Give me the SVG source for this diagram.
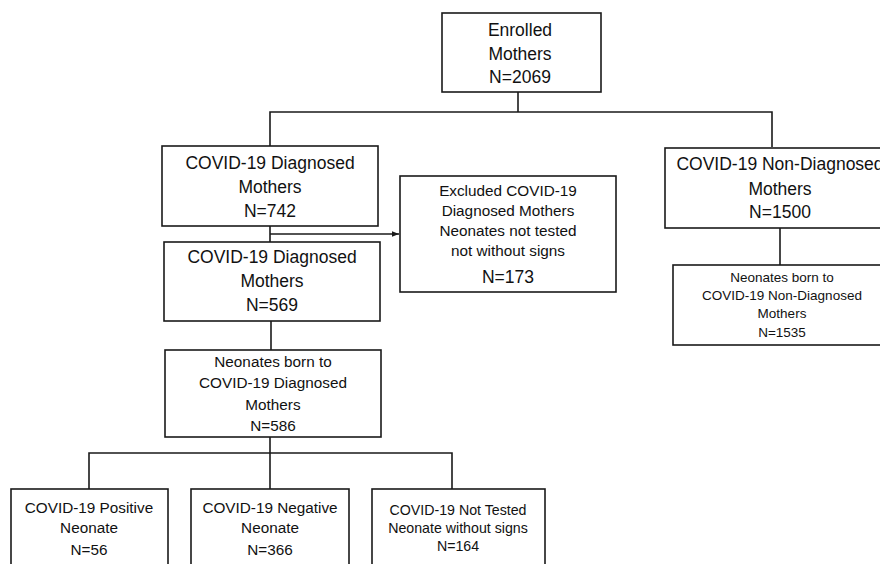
<svg xmlns="http://www.w3.org/2000/svg" width="880" height="564" viewBox="0 0 880 564">
<style>
.box{fill:#fff;stroke:#1a1a1a;stroke-width:1.6}
.ln{fill:none;stroke:#1a1a1a;stroke-width:1.6}
text{font-family:"Liberation Sans",Arial,sans-serif;fill:#111;text-anchor:middle}
.l{font-size:17.5px}
.m{font-size:15.3px}
.s{font-size:14.2px}
.xs{font-size:13.5px}
</style>
<defs>
<marker id="arr" viewBox="0 0 10 10" refX="10" refY="5" markerWidth="7" markerHeight="7" markerUnits="userSpaceOnUse" orient="auto">
<path d="M0,1 L10,5 L0,9 Z" fill="#1a1a1a"/>
</marker>
</defs>
<rect width="880" height="564" fill="#fff"/>
<g id="connectors">
<path class="ln" d="M518,92 V112"/>
<path class="ln" d="M270,147 V112 H772 V147"/>
<path class="ln" d="M270,226 V242"/>
<path class="ln" d="M270,234 H399" marker-end="url(#arr)"/>
<path class="ln" d="M780,228 V265"/>
<path class="ln" d="M271,321 V350"/>
<path class="ln" d="M270,437 V489"/>
<path class="ln" d="M89,489 V453 H452 V489"/>
</g>
<g id="enrolled">
<rect class="box" x="442" y="13" width="159" height="79"/>
<text class="l" x="520" y="36">Enrolled</text>
<text class="l" x="520" y="60">Mothers</text>
<text class="l" x="520" y="83">N=2069</text>
</g>
<g id="diag742">
<rect class="box" x="162" y="146" width="216" height="80"/>
<text class="l" x="270" y="169">COVID-19 Diagnosed</text>
<text class="l" x="270" y="193">Mothers</text>
<text class="l" x="270" y="217">N=742</text>
</g>
<g id="excluded">
<rect class="box" x="400" y="176" width="216" height="116"/>
<text class="m" x="508" y="196">Excluded COVID-19</text>
<text class="m" x="508" y="216">Diagnosed Mothers</text>
<text class="m" x="508" y="236">Neonates not tested</text>
<text class="m" x="508" y="256">not without signs</text>
<text class="l" x="508" y="283">N=173</text>
</g>
<g id="diag569">
<rect class="box" x="164" y="242" width="216" height="79"/>
<text class="l" x="272" y="263">COVID-19 Diagnosed</text>
<text class="l" x="272" y="287">Mothers</text>
<text class="l" x="272" y="311">N=569</text>
</g>
<g id="nondiag">
<rect class="box" x="665" y="148" width="232" height="80"/>
<text class="l" x="780" y="170">COVID-19 Non-Diagnosed</text>
<text class="l" x="780" y="195">Mothers</text>
<text class="l" x="780" y="218">N=1500</text>
</g>
<g id="neonates-nondiag">
<rect class="box" x="673" y="265" width="220" height="80"/>
<text class="xs" x="782" y="282">Neonates born to</text>
<text class="xs" x="782" y="300">COVID-19 Non-Diagnosed</text>
<text class="xs" x="782" y="318">Mothers</text>
<text class="xs" x="782" y="337">N=1535</text>
</g>
<g id="neonates-diag">
<rect class="box" x="165" y="350" width="216" height="87"/>
<text class="m" x="273" y="367">Neonates born to</text>
<text class="m" x="273" y="388">COVID-19 Diagnosed</text>
<text class="m" x="273" y="410">Mothers</text>
<text class="m" x="273" y="431">N=586</text>
</g>
<g id="positive">
<rect class="box" x="11" y="489" width="157" height="90"/>
<text class="m" x="89" y="513">COVID-19 Positive</text>
<text class="m" x="89" y="533">Neonate</text>
<text class="m" x="89" y="555">N=56</text>
</g>
<g id="negative">
<rect class="box" x="191" y="489" width="158" height="90"/>
<text class="m" x="270" y="513">COVID-19 Negative</text>
<text class="m" x="270" y="533">Neonate</text>
<text class="m" x="270" y="555">N=366</text>
</g>
<g id="nottested">
<rect class="box" x="372" y="489" width="173" height="90"/>
<text class="s" x="458" y="515">COVID-19 Not Tested</text>
<text class="s" x="458" y="533">Neonate without signs</text>
<text class="s" x="458" y="551">N=164</text>
</g>
</svg>
